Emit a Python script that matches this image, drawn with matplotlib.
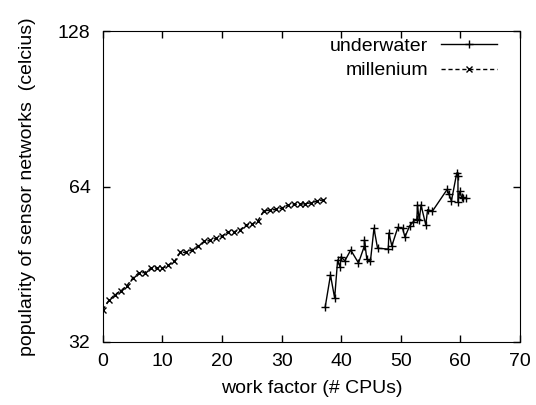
import matplotlib
matplotlib.use("Agg")
import matplotlib.pyplot as plt
from matplotlib.ticker import FixedLocator, NullLocator, MultipleLocator

plt.rcParams['font.family'] = ['Liberation Sans', 'DejaVu Sans']

# underwater series (work factor, popularity)
under_x = [37.3, 38.2, 38.9, 39.4, 39.8, 40.0, 40.6, 41.6, 42.9, 43.9, 43.9, 44.3,
           44.9, 45.5, 46.1, 47.9, 48.0, 48.5, 49.5, 50.3, 50.7, 51.5, 52.1, 52.7,
           52.8, 53.1, 53.4, 54.2, 54.5, 55.3, 57.8, 58.1, 58.5, 59.4, 59.6, 59.6,
           59.9, 60.2, 60.5, 60.9]
under_y = [37.3, 43.1, 38.9, 46.1, 44.7, 46.8, 45.9, 48.2, 45.5, 49.1, 50.4, 46.3,
           45.8, 53.1, 48.6, 48.4, 52.0, 49.1, 53.3, 53.1, 51.1, 53.7, 54.7, 55.3,
           58.9, 55.1, 58.9, 53.9, 57.7, 57.3, 63.2, 61.8, 60.0, 68.0, 67.0, 59.8,
           62.6, 61.1, 60.7, 60.9]

# millenium series
mill_x = list(range(0, 38))
mill_y = [36.9, 38.5, 39.5, 40.2, 41.1, 42.5, 43.5, 43.6, 44.4, 44.5, 44.4, 45.1,
          45.8, 47.7, 47.7, 48.3, 49.1, 50.1, 50.3, 50.8, 51.3, 52.3, 52.3, 52.7,
          53.9, 54.1, 54.9, 57.4, 57.6, 57.8, 58.1, 58.9, 59.1, 59.1, 59.3, 59.5,
          60.0, 60.3]

fig = plt.figure(figsize=(5.36, 4.05), dpi=100)
ax = fig.add_axes([0.192, 0.156, 0.778, 0.767])

ax.plot(under_x, under_y, color='black', linewidth=1, marker='+',
        markersize=6, markeredgewidth=1, label='underwater')
ax.plot(mill_x, mill_y, color='black', linewidth=1, linestyle=(0, (3, 2)),
        marker='x', markersize=4.5, markeredgewidth=1, label='millenium')

ax.set_yscale('log', base=2)
ax.set_ylim(32, 128)
ax.set_xlim(0, 70)
ax.yaxis.set_major_locator(FixedLocator([32, 64, 128]))
ax.yaxis.set_minor_locator(NullLocator())
ax.set_yticklabels(['32', '64', '128'])
ax.xaxis.set_major_locator(MultipleLocator(10))

ax.tick_params(direction='in', top=True, right=True, labelsize=14, length=5, width=1)
ax.tick_params(axis='y', pad=9)
ax.tick_params(axis='x', pad=8)
ax.set_xlabel('work factor (# CPUs)', fontsize=14, labelpad=7)
ax.set_ylabel('popularity of sensor networks  (celcius)', fontsize=14, labelpad=16)

ax.legend(loc='upper right', bbox_to_anchor=(0.945, 0.98), frameon=False,
          markerfirst=False, fontsize=14, handlelength=2.9, handletextpad=0.65,
          borderpad=0, borderaxespad=0, labelspacing=0.35)

fig.savefig('out.png', dpi=100)
